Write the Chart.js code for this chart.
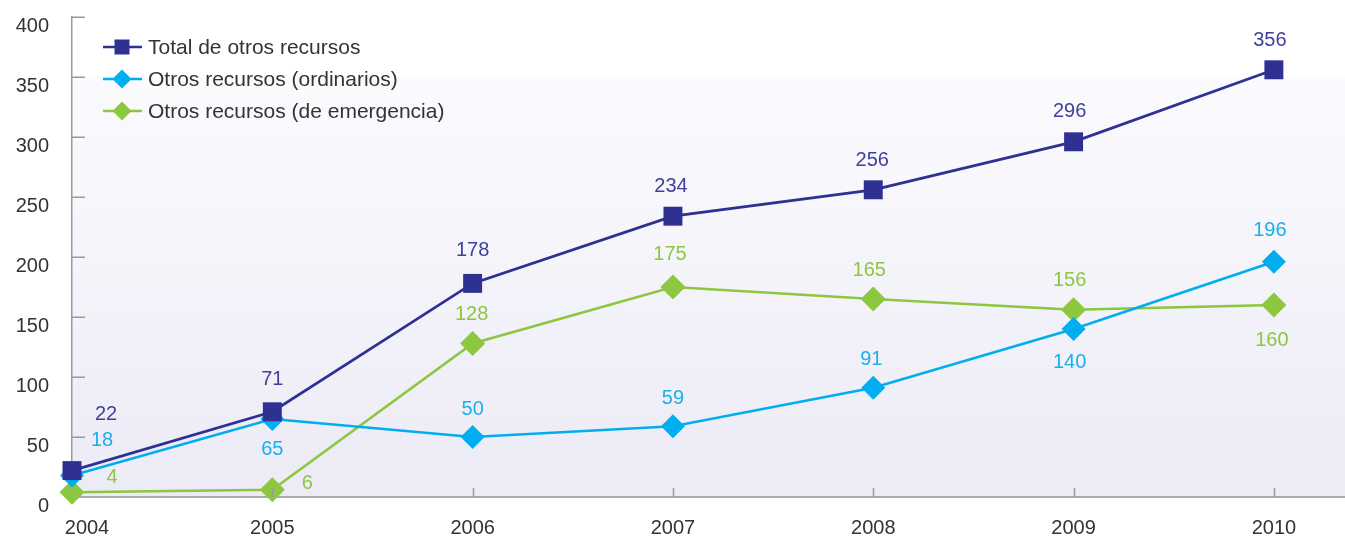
<!DOCTYPE html>
<html>
<head>
<meta charset="utf-8">
<script src="https://cdn.jsdelivr.net/npm/chart.js@4.4.1/dist/chart.umd.min.js"></script>
<style>
  html, body { margin: 0; padding: 0; background: #ffffff; }
  #wrap { width: 1345px; height: 538px; position: relative; }
</style>
</head>
<body>
<div id="wrap"><canvas id="c" width="1345" height="538"></canvas></div>
<script>
// ---- data ----
const years = [2004, 2005, 2006, 2007, 2008, 2009, 2010];
const totalOtros = [22, 71, 178, 234, 256, 296, 356];
const ordinarios = [18, 65, 50, 59, 91, 140, 196];
const emergencia = [4, 6, 128, 175, 165, 156, 160];
const seriesNames = ['Total de otros recursos', 'Otros recursos (ordinarios)', 'Otros recursos (de emergencia)'];
const yTicks = [0, 50, 100, 150, 200, 250, 300, 350, 400];

const FONT = '"Liberation Sans", Arial, sans-serif';
const colors = ['#2e3192', '#00aeef', '#8dc63f'];
const labelColors = ['#40409c', '#1ab0ea', '#8dc63f'];

// label offsets per series/point (style only)
const labelOffsets = [
  [[34, -56], [0, -32], [0, -33], [-2, -30], [-1, -29], [-4, -30], [-4, -29]],
  [[30, -35], [0, 30], [0, -28], [0, -28], [-2, -28], [-4, 33], [-4, -31]],
  [[40, -15], [35, -6], [-1, -29], [-3, -33], [-4, -29], [-4, -29], [-2, 35]]
];

function toXY(vals) { return vals.map((v, i) => ({ x: years[i], y: v })); }

const bgPlugin = {
  id: 'bgGrad',
  beforeDraw(chart) {
    const { ctx, chartArea: a, scales: { y } } = chart;
    const top = y.getPixelForValue(350);
    const bot = y.getPixelForValue(0);
    const g = ctx.createLinearGradient(0, top, 0, bot);
    g.addColorStop(0, '#fbfbfe');
    g.addColorStop(1, '#ecebf6');
    ctx.save();
    ctx.fillStyle = g;
    ctx.fillRect(a.left, top, a.right - a.left, bot - top);
    ctx.restore();
  }
};

function drawMarker(ctx, kind, x, y, r, color) {
  ctx.fillStyle = color;
  ctx.beginPath();
  if (kind === 'rect') {
    ctx.rect(x - r, y - r, 2 * r, 2 * r);
  } else {
    ctx.moveTo(x - r, y); ctx.lineTo(x, y - r); ctx.lineTo(x + r, y); ctx.lineTo(x, y + r); ctx.closePath();
  }
  ctx.fill();
}

const decorPlugin = {
  id: 'decor',
  afterDraw(chart) {
    const { ctx, chartArea: a, scales: { x, y } } = chart;
    ctx.save();
    // y tick marks (inside)
    ctx.strokeStyle = '#9a9a9a';
    ctx.lineWidth = 1.5;
    yTicks.forEach(v => {
      if (v === 0) return;
      const py = Math.round(y.getPixelForValue(v)) + 0.25;
      ctx.beginPath(); ctx.moveTo(a.left, py); ctx.lineTo(a.left + 13, py); ctx.stroke();
    });
    // x tick marks (inside)
    years.forEach(yr => {
      const px = Math.round(x.getPixelForValue(yr)) + 0.5;
      if (yr === years[0]) return;
      ctx.beginPath(); ctx.moveTo(px, a.bottom); ctx.lineTo(px, a.bottom - 9); ctx.stroke();
    });
    // x labels
    ctx.fillStyle = '#333333';
    ctx.font = '20px ' + FONT;
    ctx.textAlign = 'center';
    ctx.textBaseline = 'middle';
    years.forEach(yr => {
      let px = x.getPixelForValue(yr);
      if (yr === years[0]) px = Math.max(px, a.left + 15);
      ctx.fillText(String(yr), px, a.bottom + 31);
    });
    // data labels
    ctx.font = '20px ' + FONT;
    chart.data.datasets.forEach((ds, di) => {
      const meta = chart.getDatasetMeta(di);
      ctx.fillStyle = labelColors[di];
      meta.data.forEach((pt, i) => {
        const off = labelOffsets[di][i];
        ctx.fillText(String(ds.data[i].y), pt.x + off[0], pt.y + off[1]);
      });
    });
    // legend
    const rows = [47, 79, 111];
    const kinds = ['rect', 'diamond', 'diamond'];
    const sizes = [7.5, 9.5, 9.5];
    seriesNames.forEach((name, i) => {
      const ry = rows[i];
      ctx.strokeStyle = colors[i];
      ctx.lineWidth = 2.5;
      ctx.beginPath(); ctx.moveTo(103, ry); ctx.lineTo(142, ry); ctx.stroke();
      drawMarker(ctx, kinds[i], 122, ry, sizes[i], colors[i]);
      ctx.fillStyle = '#333333';
      ctx.font = '21px ' + FONT;
      ctx.textAlign = 'left';
      ctx.fillText(name, 148, ry + 1);
    });
    ctx.restore();
  }
};

new Chart(document.getElementById('c'), {
  type: 'line',
  data: {
    datasets: [
      { label: seriesNames[0], data: toXY(totalOtros), borderColor: colors[0], backgroundColor: colors[0], clip: false,
        borderWidth: 2.8, pointStyle: 'rect', pointRadius: 13.4, pointHoverRadius: 13.4, pointBorderWidth: 0, tension: 0 },
      { label: seriesNames[1], data: toXY(ordinarios), borderColor: colors[1], backgroundColor: colors[1], clip: false,
        borderWidth: 2.6, pointStyle: 'rectRot', pointRadius: 12, pointHoverRadius: 12, pointBorderWidth: 0, tension: 0 },
      { label: seriesNames[2], data: toXY(emergencia), borderColor: colors[2], backgroundColor: colors[2], clip: false,
        borderWidth: 2.6, pointStyle: 'rectRot', pointRadius: 12.5, pointHoverRadius: 12.5, pointBorderWidth: 0, tension: 0 }
    ]
  },
  options: {
    responsive: false,
    animation: false,
    devicePixelRatio: 1,
    layout: { autoPadding: false, padding: { top: 17, left: 0, right: 0, bottom: 0 } },
    plugins: { legend: { display: false }, tooltip: { enabled: false } },
    scales: {
      x: {
        type: 'linear', min: 2004, max: 2010.355,
        ticks: { display: false, stepSize: 1 },
        grid: { display: false, drawTicks: false },
        border: { display: true, color: '#aaaaaa', width: 2 },
        afterFit(s) { s.height = 41; s.paddingLeft = 0; s.paddingRight = 0; }
      },
      y: {
        min: 0, max: 400,
        afterBuildTicks(s) { s.ticks = yTicks.map(v => ({ value: v })); },
        ticks: { font: { family: FONT, size: 20 }, color: '#333333', padding: 23, labelOffset: 9 },
        grid: { display: false, drawTicks: false },
        border: { display: true, color: '#9a9a9a', width: 1.5 },
        afterFit(s) { s.width = 72; s.paddingTop = 0; s.paddingBottom = 0; }
      }
    }
  },
  plugins: [bgPlugin, decorPlugin]
});
</script>
</body>
</html>
